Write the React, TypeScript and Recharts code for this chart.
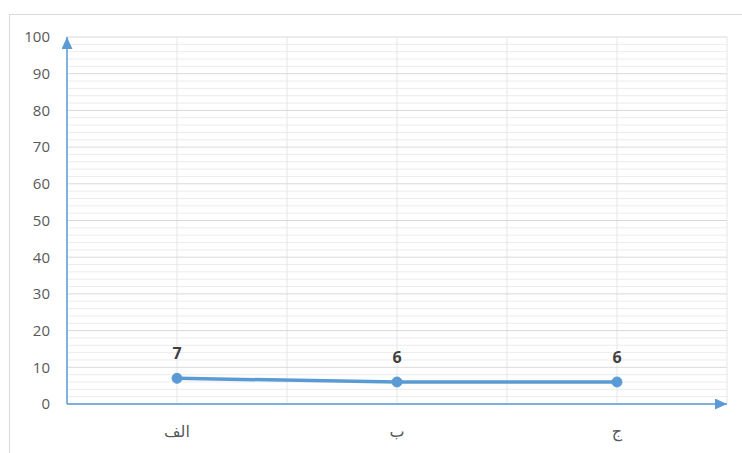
import { LineChart, Line, XAxis, YAxis, CartesianGrid, LabelList } from "recharts";

const categories = ["الف", "ب", "ج"];
const values = [7, 6, 6];
const yTicks = [0, 10, 20, 30, 40, 50, 60, 70, 80, 90, 100];
const minorTicks = [
  2, 4, 6, 8, 12, 14, 16, 18, 22, 24, 26, 28, 32, 34, 36, 38, 42, 44, 46, 48, 52, 54, 56, 58, 62, 64,
  66, 68, 72, 74, 76, 78, 82, 84, 86, 88, 92, 94, 96, 98,
];
// half-band steps across the three categories, for the vertical grid
const gridSteps = [0, 1, 2, 3, 4, 5, 6];

const data = categories.map((name, i) => ({ name, value: values[i] }));

const BLUE = "#5b9bd5";
const FONT = "'Open Sans', 'DejaVu Sans', sans-serif";

// vertical grid at each category centre and each band edge
const halfBandLines = (props: any) => {
  const { offset } = props;
  const last = gridSteps[gridSteps.length - 1];
  return gridSteps.map((s) => offset.left + (offset.width * s) / last);
};

const App = () => {
  return (
    <div style={{ position: "absolute", left: 0, top: 0, width: 742, height: 453, background: "#fff" }}>
      <svg width={0} height={0} style={{ position: "absolute" }}>
        <defs>
          <marker
            id="arrowHead"
            viewBox="0 0 12 11"
            refX={12}
            refY={5.5}
            markerWidth={12}
            markerHeight={11}
            markerUnits="userSpaceOnUse"
            orient="auto-start-reverse">
            <path d="M0,0 L12,5.5 L0,11 z" fill={BLUE} />
          </marker>
        </defs>
      </svg>
      <div
        style={{
          position: "absolute",
          left: 9,
          top: 14,
          width: 740,
          height: 450,
          border: "1px solid #d9d9d9",
          boxSizing: "border-box",
        }}
      />
      <div style={{ position: "absolute", left: 0, top: 0 }}>
        <LineChart width={742} height={453} data={data} margin={{ top: 37, right: 15, bottom: 0, left: 0 }}>
          <CartesianGrid vertical={false} horizontalValues={minorTicks} stroke="#ececec" strokeWidth={1} />
          <CartesianGrid
            horizontal={false}
            verticalCoordinatesGenerator={halfBandLines}
            stroke="#e6e6e6"
            strokeWidth={1}
          />
          <CartesianGrid vertical={false} horizontalValues={yTicks} stroke="#d9d9d9" strokeWidth={1} />
          <XAxis
            dataKey="name"
            scale="band"
            height={49}
            tickLine={false}
            tickSize={0}
            tickMargin={22}
            axisLine={{ stroke: BLUE, strokeWidth: 1.5, markerEnd: "url(#arrowHead)" }}
            tick={{ fill: "#595959", fontSize: 16, fontFamily: FONT }}
          />
          <YAxis
            width={67}
            domain={[0, 100]}
            ticks={yTicks}
            interval={0}
            tickLine={false}
            tickSize={0}
            tickMargin={17}
            axisLine={{ stroke: BLUE, strokeWidth: 1.5, markerStart: "url(#arrowHead)" }}
            tick={{ fill: "#595959", fontSize: 15, fontFamily: FONT }}
          />
          <Line
            dataKey="value"
            stroke={BLUE}
            strokeWidth={3.5}
            dot={{ r: 5, fill: BLUE, stroke: BLUE, strokeWidth: 1 }}
            activeDot={false}
            isAnimationActive={false}>
            <LabelList
              dataKey="value"
              position="top"
              offset={19}
              fill="#404040"
              fontSize={16}
              fontWeight="bold"
              fontFamily={FONT}
            />
          </Line>
        </LineChart>
      </div>
    </div>
  );
};

export default App;
